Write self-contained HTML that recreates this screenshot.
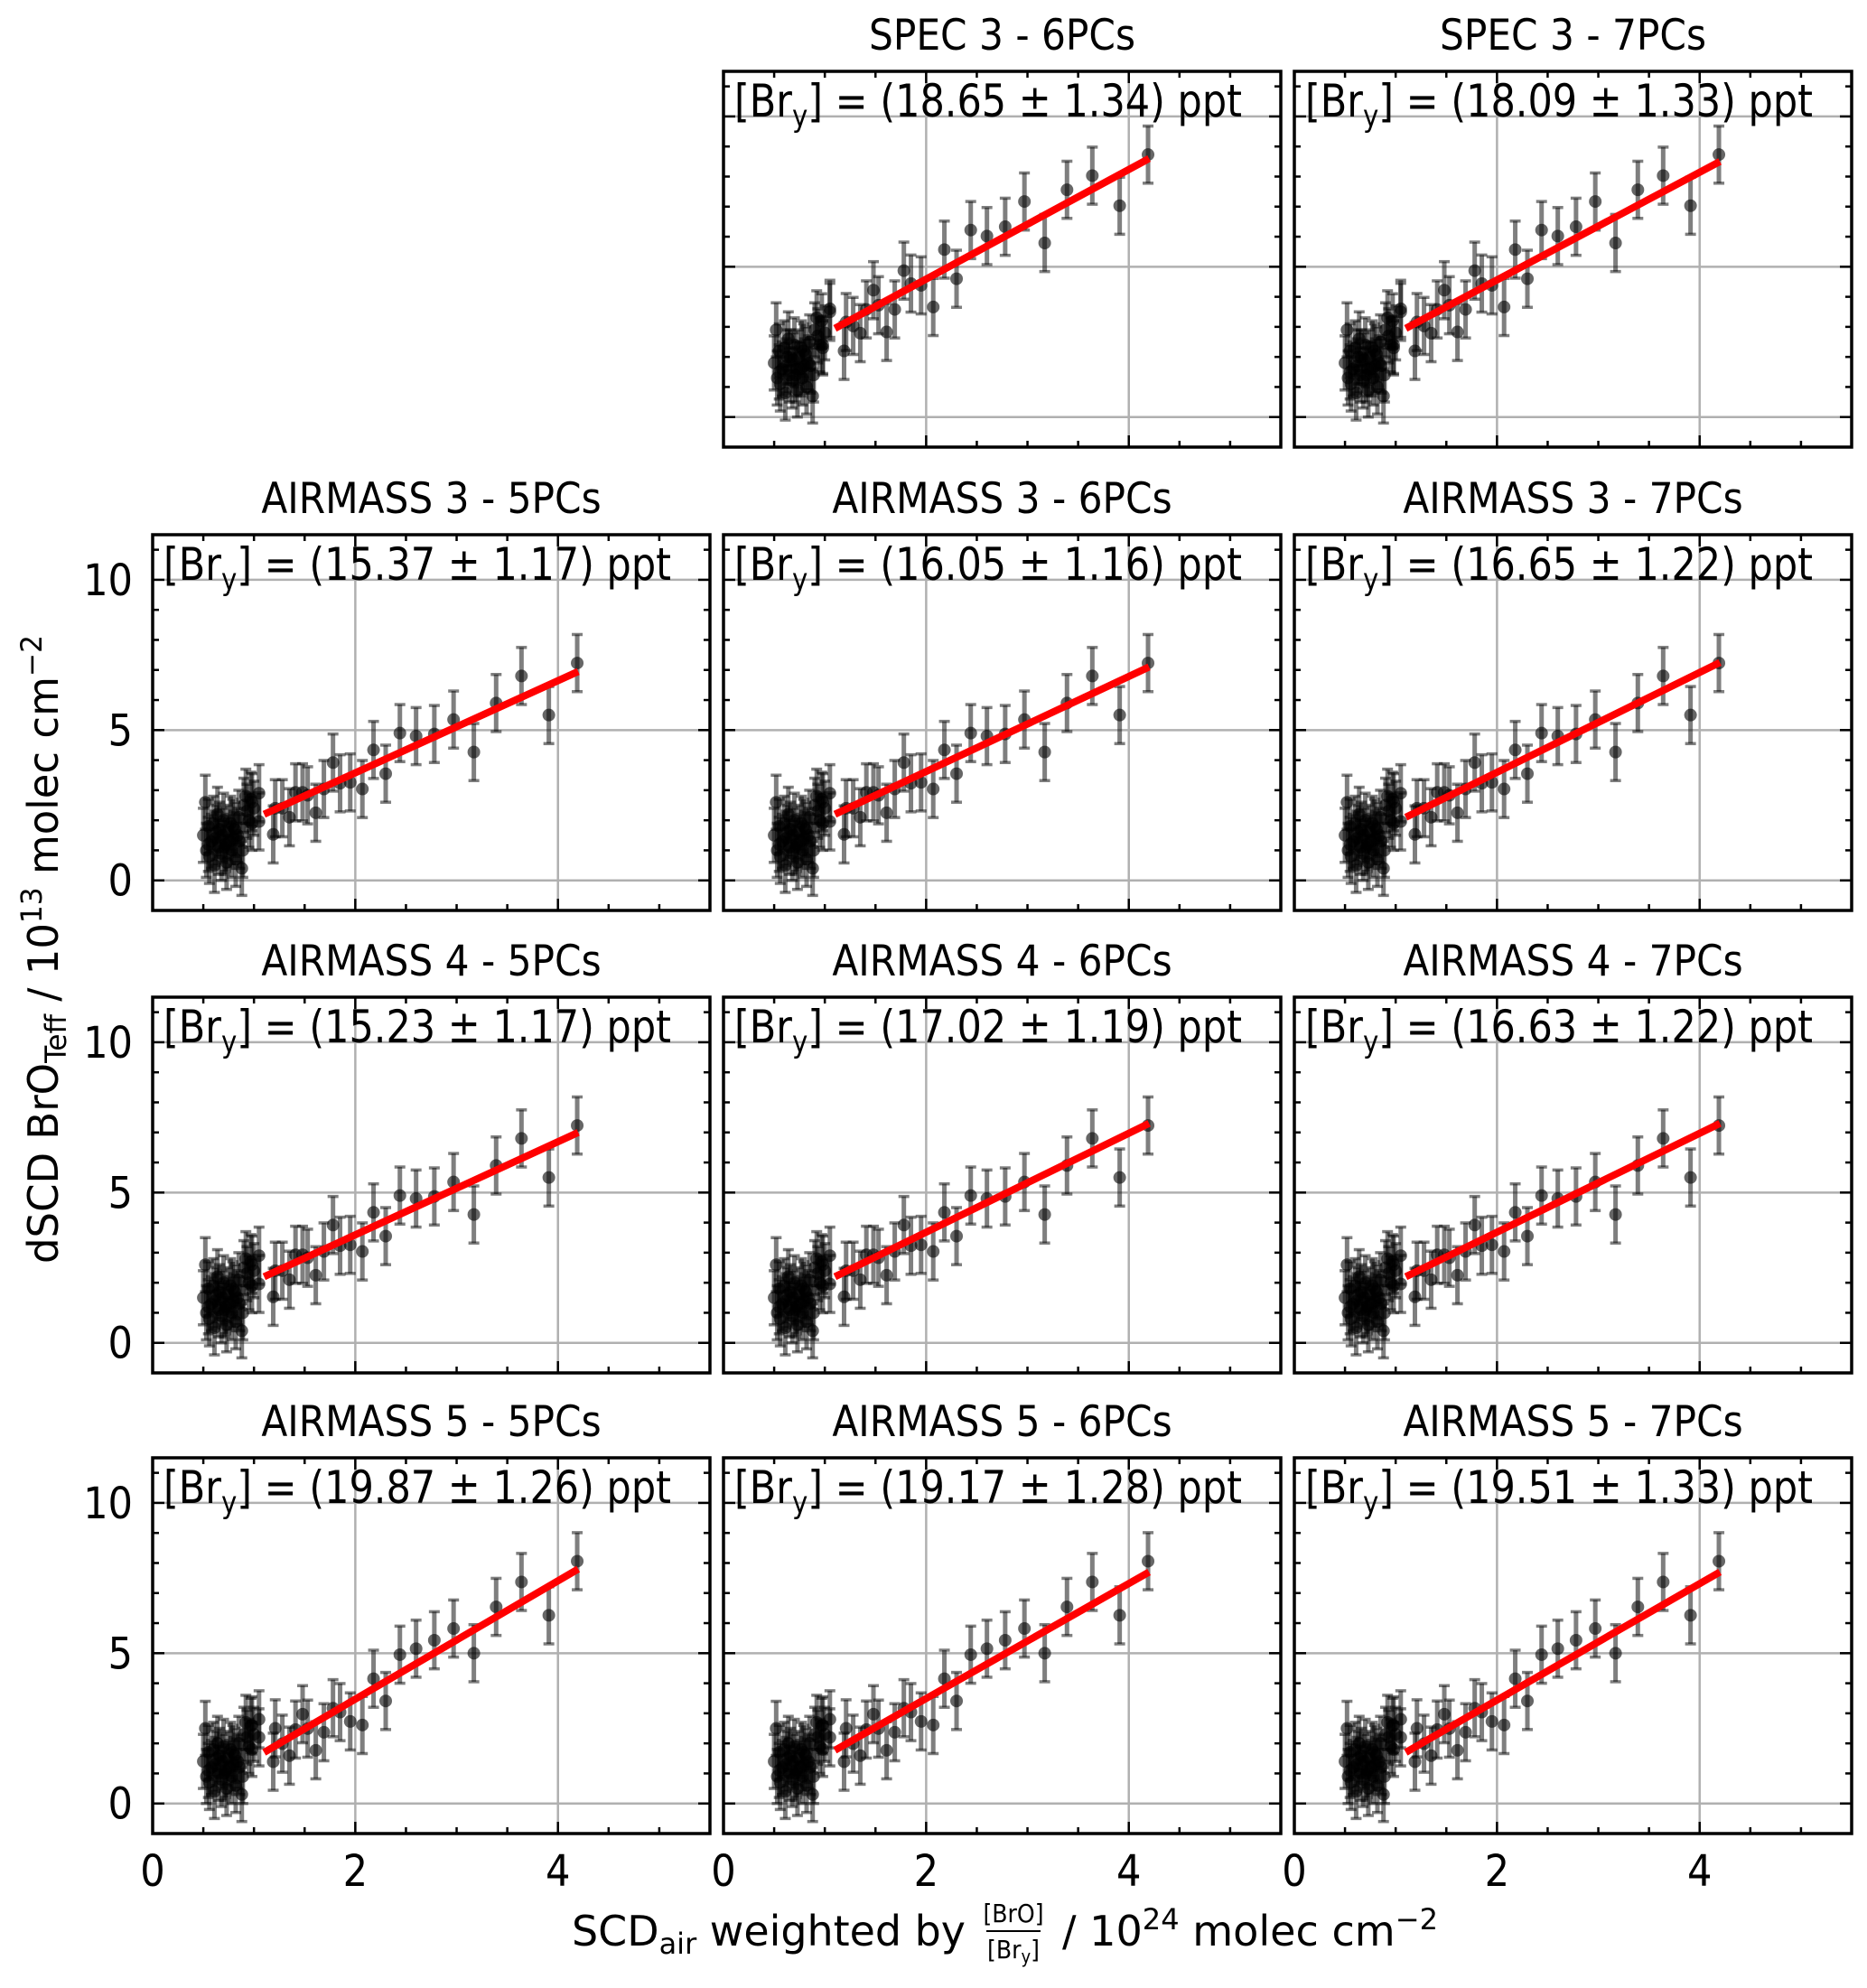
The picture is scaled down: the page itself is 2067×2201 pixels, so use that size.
<!DOCTYPE html>
<html><head><meta charset="utf-8"><style>
html,body{margin:0;padding:0;background:#fff;}
svg{display:block;font-family:"DejaVu Sans Condensed","DejaVu Sans","Liberation Sans",sans-serif;}
</style></head><body>
<svg id="fig" width="2067" height="2201" viewBox="0 0 2067 2201" xmlns="http://www.w3.org/2000/svg">
<rect width="2067" height="2201" fill="#fff"/>
<g id="panels"></g>
<text x="633" y="2154" font-size="46" fill="#000" textLength="436" lengthAdjust="spacingAndGlyphs">SCD<tspan font-size="32" dy="9">air</tspan><tspan dy="-9"> weighted by</tspan></text>
<g>
<text x="1122" y="2128" font-size="28" text-anchor="middle">[BrO]</text>
<line x1="1092" y1="2138" x2="1152" y2="2138" stroke="#000" stroke-width="2"/>
<text x="1122" y="2168" font-size="28" text-anchor="middle">[Br<tspan font-size="20" dy="5">y</tspan><tspan dy="-5">]</tspan></text>
</g>
<text x="1176" y="2154" font-size="46" fill="#000" textLength="416" lengthAdjust="spacingAndGlyphs">/ 10<tspan font-size="32" dy="-18">24</tspan><tspan dy="18"> molec cm</tspan><tspan font-size="32" dy="-18">−2</tspan></text>
<text transform="translate(64,1051) rotate(-90)" text-anchor="middle" font-size="46" fill="#000" textLength="696" lengthAdjust="spacingAndGlyphs">dSCD BrO<tspan font-size="32" dy="9">Teff</tspan><tspan dy="-9"> / 10</tspan><tspan font-size="32" dy="-18">13</tspan><tspan dy="18"> molec cm</tspan><tspan font-size="32" dy="-18">−2</tspan></text>
</svg>
<script>
// ---- data ----
const clusterX = [0.50,0.52,0.53,0.55,0.56,0.58,0.60,0.61,0.62,0.64,0.65,0.66,0.68,0.69,0.70,0.72,0.73,0.74,0.76,0.77,0.78,0.80,0.81,0.82,0.84,0.85,0.86,0.88,0.89,0.90,0.92,0.93,0.95,0.97,0.98,1.00,0.55,0.63,0.71,0.79];
const clusterYA = [1.5,2.6,1.0,1.8,0.8,1.3,1.9,0.5,1.4,2.2,1.1,1.7,0.9,1.5,2.0,1.2,0.6,1.6,1.3,1.9,1.0,1.4,1.7,0.7,1.5,2.1,1.3,0.4,1.0,2.5,2.8,2.3,2.0,2.7,1.9,2.4,1.2,1.6,1.1,1.8];
const clusterYS = [1.8,2.9,1.3,2.2,1.1,1.6,2.3,0.8,1.7,2.6,1.4,2.0,1.2,1.9,2.4,1.6,0.9,2.0,1.6,2.3,1.3,1.7,2.1,1.0,1.8,2.5,1.7,0.7,1.4,2.9,3.3,2.7,2.4,3.2,2.3,2.8,1.5,2.0,1.4,2.2];
const clusterYB = [1.4,2.5,0.9,1.7,0.7,1.2,1.8,0.4,1.3,2.0,1.0,1.6,0.8,1.4,1.9,1.1,0.5,1.5,1.2,1.8,0.9,1.3,1.6,0.6,1.4,2.0,1.2,0.3,0.9,2.3,2.7,2.2,1.9,2.6,1.8,2.3,1.1,1.5,1.0,1.7];
const sparseX = [4.19,3.64,3.91,3.39,3.17,2.97,2.78,2.60,2.44,2.30,2.18,2.07,1.95,1.85,1.78,1.69,1.61,1.53,1.48,1.41,1.35,1.28,1.19,1.21,1.05,1.05,0.98];
const sparseYA = [7.23,6.8,5.5,5.9,4.27,5.35,4.87,4.8,4.9,3.55,4.34,3.04,3.26,3.23,3.92,3.04,2.25,2.83,2.93,2.93,2.1,2.4,1.53,2.4,2.9,1.96,2.6];
const sparseYB = [8.06,7.37,6.26,6.54,5.0,5.82,5.43,5.15,4.95,3.41,4.15,2.61,2.73,3.04,3.17,2.37,1.77,2.49,2.97,2.46,1.59,1.99,1.39,2.5,2.8,2.2,2.6];
const sparseYS = [8.73,8.03,7.03,7.56,5.79,7.17,6.33,6.02,6.22,4.6,5.57,3.66,4.38,4.44,4.87,3.58,2.83,3.72,4.22,3.58,2.79,3.03,2.2,3.16,3.6,3.5,2.4];
const sparseErr = 0.95;
const clusterErr = 0.9;
const panelTitles = ["SPEC 3 - 6PCs","SPEC 3 - 7PCs","AIRMASS 3 - 5PCs","AIRMASS 3 - 6PCs","AIRMASS 3 - 7PCs","AIRMASS 4 - 5PCs","AIRMASS 4 - 6PCs","AIRMASS 4 - 7PCs","AIRMASS 5 - 5PCs","AIRMASS 5 - 6PCs","AIRMASS 5 - 7PCs"];
const panelBry = ["(18.65 ± 1.34)","(18.09 ± 1.33)","(15.37 ± 1.17)","(16.05 ± 1.16)","(16.65 ± 1.22)","(15.23 ± 1.17)","(17.02 ± 1.19)","(16.63 ± 1.22)","(19.87 ± 1.26)","(19.17 ± 1.28)","(19.51 ± 1.33)"];
const panelSet = ["S","S","A","A","A","A","A","A","B","B","B"];
const fitX = [1.1, 4.2];
const fitStartY = [2.95,2.95,2.2,2.2,2.1,2.2,2.2,2.2,1.7,1.77,1.7];
const fitEndY = [8.6,8.5,6.95,7.1,7.25,7.0,7.3,7.3,7.8,7.7,7.7];
const xTicks = [0,2,4];
const yTicks = [0,5,10];

// ---- layout ----
const colLeft = [169,801,1433], rowTop = [79,592,1104,1614];
const PW = 617, PH = 416, XMIN = 0, XMAX = 5.5, YMIN = -1, YMAX = 11.5;
const slots = [[0,1],[0,2],[1,0],[1,1],[1,2],[2,0],[2,1],[2,2],[3,0],[3,1],[3,2]];
const NS = "http://www.w3.org/2000/svg";
const root = document.getElementById('panels');
function mk(tag, attrs, parent){const e=document.createElementNS(NS,tag);for(const k in attrs)e.setAttribute(k,attrs[k]);parent.appendChild(e);return e;}

slots.forEach((s,i)=>{
  const L = colLeft[s[1]], T = rowTop[s[0]];
  const sx = v => L + (v-XMIN)/(XMAX-XMIN)*PW;
  const sy = v => T + (YMAX-v)/(YMAX-YMIN)*PH;
  const g = mk('g',{},root);
  
  
  xTicks.forEach(v=>{const l=mk('line',{x1:sx(v),x2:sx(v),y1:T,y2:T+PH,stroke:'#b0b0b0','stroke-width':2.5},g);
    
    });
  yTicks.forEach(v=>{const l=mk('line',{x1:L,x2:L+PW,y1:sy(v),y2:sy(v),stroke:'#b0b0b0','stroke-width':2.5},g);
    
    });
  for(let k=0;k<=11;k++){const v=k*0.5;const major=(k%4===0);const len=major?13:7;
    mk('line',{x1:sx(v),x2:sx(v),y1:T+PH,y2:T+PH-len,stroke:'#000','stroke-width':2.5},g);
    mk('line',{x1:sx(v),x2:sx(v),y1:T,y2:T+len,stroke:'#000','stroke-width':2.5},g);}
  for(let v=-1;v<=11;v++){const major=(v%5===0);const len=major?13:7;
    mk('line',{x1:L,x2:L+len,y1:sy(v),y2:sy(v),stroke:'#000','stroke-width':2.5},g);
    mk('line',{x1:L+PW,x2:L+PW-len,y1:sy(v),y2:sy(v),stroke:'#000','stroke-width':2.5},g);}
  const set = panelSet[i];
  const cy = set==='S'?clusterYS:(set==='B'?clusterYB:clusterYA);
  const spy = set==='S'?sparseYS:(set==='B'?sparseYB:sparseYA);
  const pts = [];
  clusterX.forEach((x,j)=>pts.push([x,cy[j],clusterErr]));
  sparseX.forEach((x,j)=>pts.push([x,spy[j],sparseErr]));
  pts.forEach(p=>{
    const px=sx(p[0]), y1=sy(p[1]+p[2]), y2=sy(p[1]-p[2]);
    const eb=mk('g',{stroke:'rgba(0,0,0,0.5)','stroke-width':5,fill:'none'},g);
    
    
    mk('line',{x1:px,x2:px,y1:y1,y2:y2},eb);
    mk('line',{x1:px-6,x2:px+6,y1:y1,y2:y1,'stroke-width':3.5},eb);
    mk('line',{x1:px-6,x2:px+6,y1:y2,y2:y2,'stroke-width':3.5},eb);
    const c=mk('circle',{cx:px,cy:sy(p[1]),r:7,fill:'rgba(0,0,0,0.6)'},g);
    
    
  });
  const fl=mk('line',{x1:sx(fitX[0]),y1:sy(fitStartY[i]),x2:sx(fitX[1]),y2:sy(fitEndY[i]),stroke:'#ff0000','stroke-width':8},g);
  
  
  const fr=mk('rect',{x:L,y:T,width:PW,height:PH,fill:'none',stroke:'#000','stroke-width':3.5},g);
  
  
  const t=mk('text',{x:L+PW/2,y:T-24,'text-anchor':'middle','font-size':47},g);
  t.textContent=panelTitles[i];
  
  
  const a=mk('text',{x:L+12,y:T+50,'font-size':50,textLength:562,lengthAdjust:'spacingAndGlyphs'},g);
  
  
  a.innerHTML='[Br<tspan font-size="34" dy="11">y</tspan><tspan dy="-11">] = '+panelBry[i]+' ppt</tspan>';
  if(s[1]===0){yTicks.forEach(v=>{const tl=mk('text',{x:L-22,y:sy(v)+17,'text-anchor':'end','font-size':48},g);tl.textContent=v;
    
    });}
  if(s[0]===3){xTicks.forEach(v=>{const tl=mk('text',{x:sx(v),y:T+PH+58,'text-anchor':'middle','font-size':48},g);tl.textContent=v;
    
    });}
});
</script>
</body></html>
